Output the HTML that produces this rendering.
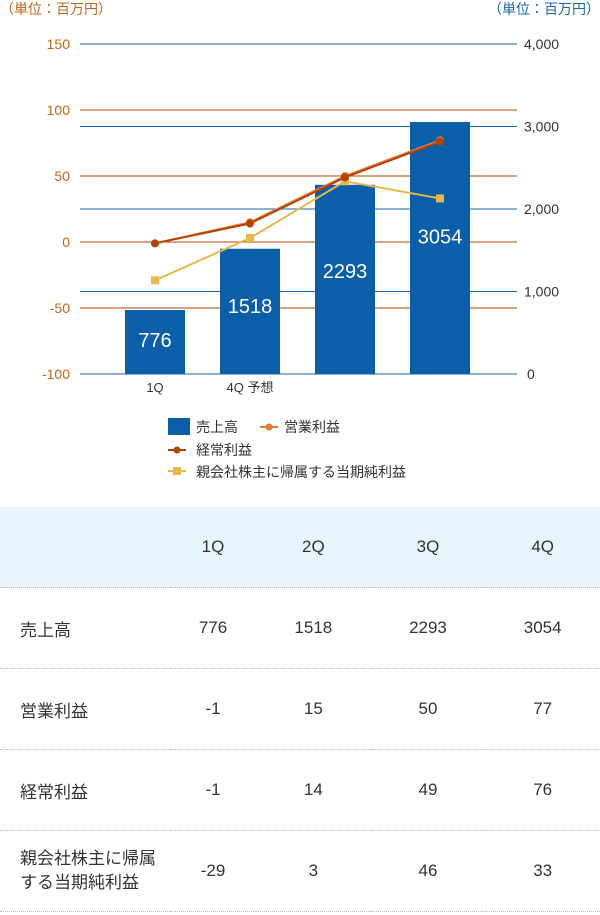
<!DOCTYPE html>
<html><head><meta charset="utf-8"><style>
body{margin:0;width:600px;height:915px;background:#fff;font-family:"Liberation Sans","Noto Sans CJK JP",sans-serif;position:relative;overflow:hidden}
table{position:absolute;left:0;top:507px;width:600px;border-collapse:collapse;color:#333;font-size:17px}
td{height:80px;border-bottom:1px dotted #bbb;text-align:center;padding:0}
td:first-child{text-align:left;padding-left:20px;width:150px}
tr.head td{background:#e8f4fc}
</style></head><body>
<svg width="600" height="500" style="position:absolute;left:0;top:0" font-family="Liberation Sans, Noto Sans CJK JP, sans-serif">
<text x="0" y="14" font-size="14" fill="#c0651b">（単位：百万円）</text>
<text x="600" y="14" font-size="14" fill="#1a66b0" text-anchor="end">（単位：百万円）</text>
<g id="grid"></g><g id="bars"></g><g id="lines"></g><g id="labels"></g>
<g font-size="14" fill="#333">
<rect x="168" y="418" width="22" height="17" fill="#0b5ea8"/><text x="196" y="432">売上高</text>
<line x1="260" y1="427" x2="278" y2="427" stroke="#e07b39" stroke-width="2"/><circle cx="269" cy="427" r="3.5" fill="#e07b39"/><text x="284" y="432">営業利益</text>
<line x1="168" y1="450" x2="186" y2="450" stroke="#b94004" stroke-width="2"/><circle cx="177" cy="450" r="3.5" fill="#b94004"/><text x="196" y="455">経常利益</text>
<line x1="168" y1="471" x2="186" y2="471" stroke="#e8b84d" stroke-width="2"/><rect x="173" y="467" width="8" height="8" fill="#e8b84d"/><text x="196" y="477">親会社株主に帰属する当期純利益</text>
</g>
</svg>
<table>
<tr class="head"><td></td><td>1Q</td><td>2Q</td><td>3Q</td><td>4Q</td></tr>
<tr><td>売上高</td><td>776</td><td>1518</td><td>2293</td><td>3054</td></tr>
<tr><td>営業利益</td><td>-1</td><td>15</td><td>50</td><td>77</td></tr>
<tr><td>経常利益</td><td>-1</td><td>14</td><td>49</td><td>76</td></tr>
<tr><td style="line-height:24px">親会社株主に帰属<br>する当期純利益</td><td>-29</td><td>3</td><td>46</td><td>33</td></tr>
</table>
<script>
const categories=["1Q","4Q 予想","",""];
const sales=[776,1518,2293,3054];
const opProfit=[-1,15,50,77];
const ordProfit=[-1,14,49,76];
const netProfit=[-29,3,46,33];
const leftTicks=[150,100,50,0,-50,-100];
const rightTicks=[4000,3000,2000,1000,0];
const NS="http://www.w3.org/2000/svg";
const X0=80,X1=517,TOP=44,BOT=374;
const yL=v=>BOT-(v+100)/250*(BOT-TOP);
const yR=v=>BOT-v/4000*(BOT-TOP);
const xC=i=>155+95*i;
function mk(t,a,p){const e=document.createElementNS(NS,t);for(const k in a)e.setAttribute(k,a[k]);p.appendChild(e);return e;}
const g=document.getElementById('grid'),b=document.getElementById('bars'),l=document.getElementById('lines'),lb=document.getElementById('labels');
leftTicks.forEach(v=>{const y=yL(v);const blue=(v===150||v===-100);
const ln=mk('line',{x1:X0,x2:X1,y1:y,y2:y,stroke:blue?'#1a66b0':'#b94004','stroke-width':1},g);


const t=mk('text',{x:70,y:y+5,'font-size':14,fill:'#c0651b','text-anchor':'end'},g);t.textContent=v;

});
rightTicks.forEach(v=>{const y=yR(v);
if(v!==4000&&v!==0){const ln=mk('line',{x1:X0,x2:X1,y1:y,y2:y,stroke:'#1a66b0','stroke-width':1},g);

}
const t=mk('text',{x:v===0?527:524,y:y+5,'font-size':14,fill:'#333'},g);t.textContent=v.toLocaleString('en-US');

});
sales.forEach((v,i)=>{const top=yR(v);
const r=mk('rect',{x:xC(i)-30,y:top,width:60,height:BOT-top,fill:'#0b5ea8'},b);


const t=mk('text',{x:xC(i),y:top+0.45*(BOT-top)+8,'font-size':20,fill:'#fff','text-anchor':'middle'},lb);t.textContent=v;


const c=mk('text',{x:xC(i),y:392,'font-size':13,fill:'#333','text-anchor':'middle'},lb);c.textContent=categories[i];

});
function series(data,color,name,square){
const pl=mk('polyline',{points:data.map((v,i)=>xC(i)+','+yL(v)).join(' '),fill:'none',stroke:color,'stroke-width':2},l);


data.forEach((v,i)=>{const m=square?mk('rect',{x:xC(i)-4,y:yL(v)-4,width:8,height:8,fill:color},l):mk('circle',{cx:xC(i),cy:yL(v),r:4,fill:color},l);

});}
series(opProfit,'#e07b39','operating-profit',false);
series(netProfit,'#e8b84d','net-profit',true);
series(ordProfit,'#b94004','ordinary-profit',false);
</script>
</body></html>
